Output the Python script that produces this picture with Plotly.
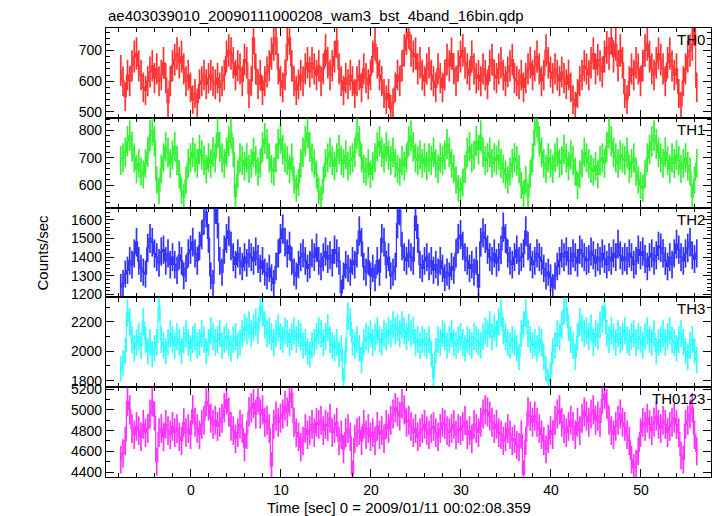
import numpy as np
import plotly.graph_objects as go

title_text = "ae403039010_20090111000208_wam3_bst_4band_16bin.qdp"
x_title = "Time [sec] 0 = 2009/01/11 00:02:08.359"
y_title = "Counts/sec"
bands = ["TH0", "TH1", "TH2", "TH3", "TH0123"]
colors = ["#ff0000", "#00f000", "#0000ff", "#00ffff", "#ff00ff"]
t_start = -7.8
bin_sec = 0.25

th0 = [635, 600, 550, 620, 600, 650, 680, 690,
       650, 620, 580, 570, 600, 630, 650, 610,
       640, 600, 620, 660, 610, 530, 600, 650,
       670, 690, 660, 680, 640, 600, 620, 580,
       540, 560, 530, 590, 600, 620, 590, 610,
       620, 600, 590, 610, 580, 600, 620, 680,
       700, 690, 660, 620, 650, 640, 600, 670,
       660, 560, 600, 740, 640, 590, 620, 570,
       600, 630, 650, 690, 720, 740, 640, 600,
       580, 620, 720, 740, 650, 600, 570, 590,
       620, 600, 640, 660, 630, 660, 640, 620,
       650, 600, 640, 700, 660, 620, 650, 680,
       730, 640, 600, 570, 610, 590, 620, 600,
       560, 600, 620, 580, 640, 610, 590, 620,
       680, 720, 660, 620, 600, 560, 540, 560,
       510, 530, 580, 620, 600, 650, 700, 740,
       760, 700, 680, 690, 640, 660, 620, 600,
       640, 660, 620, 600, 580, 640, 610, 580,
       620, 670, 650, 690, 640, 600, 650, 680,
       700, 660, 640, 620, 680, 640, 610, 620,
       600, 640, 620, 590, 650, 670, 620, 610,
       640, 660, 620, 600, 630, 650, 670, 610,
       600, 590, 620, 580, 610, 640, 660, 620,
       650, 680, 640, 600, 620, 700, 660, 630,
       610, 640, 620, 600, 630, 610, 590, 620,
       580, 540, 520, 560, 600, 620, 650, 640,
       620, 660, 690, 640, 670, 650, 630, 680,
       710, 690, 740, 680, 720, 650, 700, 660,
       560, 540, 600, 640, 620, 660, 640, 600,
       650, 700, 720, 680, 640, 620, 660, 690,
       670, 640, 600, 660, 690, 650, 620, 640,
       560, 520, 600, 640, 680, 700, 720, 770,
       580]

th1 = [690, 700, 720, 760, 780, 740, 700, 660,
       680, 650, 640, 680, 720, 780, 800, 760,
       620, 580, 660, 700, 740, 720, 680, 710,
       740, 690, 640, 580, 560, 620, 680, 700,
       720, 700, 680, 730, 710, 690, 660, 700,
       680, 720, 700, 790, 740, 700, 680, 720,
       760, 790, 720, 560, 640, 700, 690, 670,
       700, 660, 680, 720, 690, 650, 680, 740,
       770, 750, 700, 660, 650, 700, 750, 770,
       730, 700, 690, 660, 700, 620, 590, 610,
       680, 720, 760, 790, 740, 700, 680, 640,
       580, 550, 620, 680, 700, 720, 690, 670,
       700, 730, 690, 680, 710, 670, 690, 700,
       720, 790, 760, 700, 660, 650, 680, 640,
       670, 700, 740, 760, 720, 700, 740, 710,
       690, 720, 680, 660, 650, 690, 670, 700,
       760, 780, 740, 700, 690, 710, 680, 700,
       670, 700, 690, 720, 680, 660, 700, 690,
       710, 750, 720, 680, 660, 620, 590, 580,
       610, 660, 720, 740, 700, 710, 760, 730,
       780, 720, 690, 700, 720, 680, 700, 690,
       710, 680, 660, 640, 620, 650, 680, 700,
       690, 660, 600, 570, 620, 560, 640, 700,
       800, 830, 760, 720, 680, 660, 700, 680,
       660, 700, 720, 680, 690, 730, 700, 670,
       710, 690, 650, 600, 640, 680, 720, 700,
       680, 660, 650, 670, 640, 690, 700, 680,
       740, 790, 760, 720, 700, 680, 710, 700,
       690, 720, 660, 680, 700, 650, 620, 600,
       590, 640, 700, 730, 760, 780, 750, 720,
       700, 680, 720, 690, 660, 700, 680, 710,
       690, 660, 680, 700, 670, 650, 560, 620,
       680]

th2 = [1240, 1260, 1310, 1330, 1380, 1360, 1420, 1480,
       1380, 1340, 1320, 1310, 1450, 1500, 1480, 1420,
       1400, 1370, 1430, 1440, 1380, 1420, 1360, 1400,
       1360, 1330, 1410, 1380, 1300, 1340, 1420, 1440,
       1480, 1420, 1380, 1460, 1520, 1600, 1640, 1500,
       1300, 1260, 1660, 1580, 1380, 1320, 1440, 1500,
       1540, 1460, 1400, 1360, 1420, 1380, 1350, 1400,
       1370, 1420, 1400, 1380, 1430, 1390, 1340, 1380,
       1320, 1300, 1340, 1290, 1260, 1350, 1420, 1500,
       1550, 1480, 1420, 1460, 1380, 1320, 1300, 1360,
       1400, 1420, 1380, 1340, 1360, 1420, 1400, 1450,
       1380, 1350, 1400, 1430, 1390, 1410, 1370, 1440,
       1420, 1380, 1210, 1300, 1360, 1340, 1320, 1380,
       1360, 1420, 1540, 1480, 1350, 1320, 1380, 1300,
       1340, 1290, 1380, 1320, 1500, 1480, 1360, 1400,
       1300, 1320, 1350, 1580, 1650, 1460, 1400, 1380,
       1420, 1400, 1380, 1620, 1500, 1360, 1340, 1380,
       1400, 1350, 1380, 1330, 1360, 1320, 1380, 1340,
       1290, 1320, 1300, 1350, 1330, 1420, 1500, 1520,
       1460, 1400, 1380, 1340, 1360, 1320, 1380, 1240,
       1480, 1530, 1500, 1440, 1400, 1380, 1420, 1370,
       1400, 1440, 1560, 1500, 1420, 1380, 1360, 1400,
       1440, 1380, 1400, 1420, 1540, 1460, 1400, 1360,
       1380, 1420, 1400, 1380, 1340, 1300, 1320, 1290,
       1240, 1300, 1350, 1380, 1420, 1400, 1430, 1380,
       1380, 1420, 1400, 1370, 1440, 1420, 1400, 1380,
       1390, 1430, 1410, 1370, 1400, 1380, 1420, 1390,
       1360, 1400, 1380, 1420, 1400, 1470, 1410, 1380,
       1400, 1380, 1420, 1400, 1360, 1380, 1440, 1410,
       1430, 1390, 1350, 1400, 1420, 1380, 1410, 1460,
       1450, 1420, 1380, 1350, 1400, 1360, 1420, 1470,
       1440, 1400, 1380, 1420, 1450, 1480, 1410, 1390,
       1420]

th3 = [1880, 1920, 2000, 2260, 2200, 2080, 2020, 2060,
       2100, 2040, 2200, 2080, 2000, 2060, 1980, 2020,
       2060, 2300, 2080, 2040, 2000, 2060, 2120, 2080,
       2040, 2100, 2060, 2000, 2080, 2120, 2060, 2020,
       2080, 2100, 2040, 2060, 2120, 2080, 2000, 2060,
       2140, 2100, 2060, 2080, 2120, 2040, 2080, 2100,
       2060, 2020, 2080, 2100, 2040, 2060, 2120, 2160,
       2140, 2180, 2120, 2160, 2200, 2140, 2300, 2260,
       2180, 2120, 2140, 2100, 2060, 2120, 2160, 2100,
       2080, 2140, 2120, 2060, 2100, 2140, 2080, 2120,
       2100, 2040, 2060, 2000, 1980, 2040, 2060, 2100,
       2140, 2120, 2060, 2100, 2160, 2080, 2040, 2020,
       2060, 1980, 2020, 1800, 2000, 2240, 2200, 2060,
       2040, 2080, 2020, 1940, 2060, 2100, 2080, 2120,
       2060, 2100, 2140, 2080, 2060, 2120, 2100, 2140,
       2120, 2180, 2140, 2160, 2120, 2180, 2140, 2100,
       2160, 2120, 2140, 2060, 2080, 2040, 2080, 2060,
       2040, 2080, 1980, 1820, 2000, 2080, 2060, 2120,
       2100, 2040, 2080, 2120, 2060, 2040, 2080, 2100,
       2060, 2020, 2080, 2060, 2040, 2100, 2080, 2060,
       2040, 2100, 2140, 2120, 2180, 2100, 2160, 2120,
       2200, 2260, 2140, 2100, 2060, 2040, 2080, 2060,
       2020, 1960, 2120, 2180, 2260, 2120, 2080, 2040,
       2060, 2020, 2080, 2060, 1960, 1880, 1790, 1840,
       2000, 2040, 2120, 2100, 2180, 2280, 2300, 2160,
       2080, 2040, 1960, 2100, 2200, 2160, 2120, 2140,
       2100, 2160, 2060, 2120, 2100, 2180, 2220, 2300,
       2120, 2080, 2140, 2100, 2060, 2120, 2080, 2100,
       2140, 2080, 2060, 2100, 2120, 2060, 2100, 2080,
       2040, 2100, 2140, 2080, 2060, 2120, 2000, 2060,
       2080, 2120, 2060, 2100, 2140, 2080, 2060, 2020,
       2080, 2120, 2060, 2000, 1960, 2040, 2080, 2000,
       1940]

th0123 = [4520, 4580, 4700, 5080, 5000, 4820, 4760, 4840,
          4800, 4740, 4860, 4780, 4820, 4960, 5080, 4940,
          4500, 4780, 4820, 4740, 4860, 4800, 4760, 4840,
          4780, 4820, 4740, 4700, 4880, 4780, 4820, 4760,
          5000, 4880, 4820, 4760, 4860, 4900, 5080, 5040,
          4920, 4860, 4900, 4840, 4880, 4920, 5020, 5100,
          4980, 4840, 4800, 4720, 4780, 4860, 4820, 4640,
          4760, 4980, 5020, 5060, 4960, 5120, 4960, 5000,
          4880, 4900, 4820, 4460, 4860, 4940, 4880, 4920,
          4960, 5040, 4980, 5080, 5160, 4880, 4780, 4740,
          4640, 4700, 4820, 4760, 4800, 4860, 4780, 4880,
          4860, 4900, 4800, 4860, 4840, 4920, 4780, 4820,
          4880, 4700, 4760, 4620, 4780, 4820, 4740, 4380,
          4720, 4780, 4800, 4700, 4860, 4760, 4820, 4740,
          4780, 4700, 4840, 4760, 4800, 4720, 4860, 4820,
          4900, 4960, 5020, 4980, 4940, 5060, 5000, 4880,
          4900, 4840, 4780, 4820, 4740, 4780, 4820, 4860,
          4800, 4760, 4820, 4840, 4780, 4740, 4820, 4880,
          4860, 4800, 4780, 4820, 4860, 4760, 4820, 4800,
          4840, 4900, 4760, 4800, 4720, 4860, 4820, 4780,
          4880, 4960, 5000, 4980, 4940, 4880, 4820, 4860,
          4780, 4760, 4700, 4740, 4820, 4760, 4700, 4720,
          4660, 4640, 4760, 4380, 4700, 4980, 4940, 4880,
          4940, 4880, 4820, 4760, 4700, 4620, 4720, 4800,
          4760, 4900, 4960, 5000, 4880, 4820, 4780, 4840,
          4900, 4840, 4760, 4880, 4800, 4920, 4980, 4940,
          4880, 4960, 5000, 4900, 4940, 4880, 5100, 5150,
          5060, 4900, 4800, 4760, 4840, 4900, 4960, 4880,
          4840, 4760, 4700, 4520, 4440, 4480, 4600, 4780,
          4880, 4840, 4920, 4860, 4800, 4880, 4940, 4860,
          4820, 4900, 4860, 4780, 4840, 4880, 4920, 4860,
          4780, 4560, 4520, 4860, 4900, 4960, 5020, 4760,
          4600]

series = [th0, th1, th2, th3, th0123]
y_ranges = [[481, 773], [520, 845], [1185, 1665], [1755, 2367], [4352, 5219]]
y_major = [100, 100, 100, 200, 200]
y_minor = [20, 20, 20, 100, 100]
x_range = [-9.44, 57.78]

FONT = "Liberation Sans, Arial, sans-serif"
fig = go.Figure()
n_pan = len(series)
gap = 1.0 / n_pan
layout = dict(
    width=717, height=516,
    margin=dict(l=106, r=6, t=28, b=39),
    paper_bgcolor="white", plot_bgcolor="white",
    showlegend=False,
    font=dict(family=FONT, size=14, color="black"),
)
annotations = []
for i, vals in enumerate(series):
    v = np.array(vals, dtype=float)
    t = t_start + bin_sec * np.arange(len(v))
    err = np.sqrt(v / bin_sec)
    k = i + 1
    xa = "x" if k == 1 else f"x{k}"
    ya = "y" if k == 1 else f"y{k}"
    fig.add_trace(go.Scatter(
        x=t, y=v, mode="lines", xaxis=xa, yaxis=ya,
        line=dict(color=colors[i], width=1.2, shape="hvh"),
        error_y=dict(type="data", array=err, visible=True, width=0,
                     thickness=1.7, color=colors[i]),
        opacity=0.8,
    ))
    top = 1 - i * gap
    bot = 1 - (i + 1) * gap
    common_ax = dict(showline=True, linecolor="black", linewidth=1.2, mirror="allticks",
                     ticks="inside", ticklen=8, tickwidth=1, tickcolor="black",
                     showgrid=False, zeroline=False)
    layout[f"xaxis{k}"] = dict(
        common_ax, domain=[0, 1], anchor=ya, range=x_range,
        dtick=10, tick0=0, showticklabels=(i == n_pan - 1),
        minor=dict(ticks="inside", dtick=2, tick0=0, ticklen=4, tickcolor="black", showgrid=False),
        tickfont=dict(family=FONT, size=14),
        **({"matches": "x"} if k > 1 else {}),
    )
    layout[f"yaxis{k}"] = dict(
        common_ax, domain=[bot, top], anchor=xa, range=y_ranges[i],
        dtick=y_major[i], tick0=0,
        minor=dict(ticks="inside", dtick=y_minor[i], tick0=0, ticklen=4, tickcolor="black", showgrid=False),
        tickfont=dict(family=FONT, size=14),
    )
    annotations.append(dict(
        text=bands[i], xref="paper", yref="paper", x=1, y=top,
        xanchor="right", yanchor="top", xshift=-4, yshift=-1, showarrow=False,
        font=dict(family=FONT, size=15, color="black"),
    ))

annotations.append(dict(text=title_text, xref="paper", yref="paper", x=0, y=1,
                        xanchor="left", yanchor="bottom", yshift=2, showarrow=False,
                        font=dict(family=FONT, size=15, color="black")))
annotations.append(dict(text=x_title, xref="paper", yref="paper", x=0.485, y=0,
                        xanchor="center", yanchor="top", yshift=-20, showarrow=False,
                        font=dict(family=FONT, size=15, color="black")))
annotations.append(dict(text=y_title, xref="paper", yref="paper", x=0, y=0.5,
                        xanchor="center", yanchor="middle", xshift=-64, textangle=-90,
                        showarrow=False, font=dict(family=FONT, size=15, color="black")))
layout["annotations"] = annotations
fig.update_layout(**layout)
fig.write_html("out.html", config={"displayModeBar": False},
               post_script="document.body.style.margin='0';")
